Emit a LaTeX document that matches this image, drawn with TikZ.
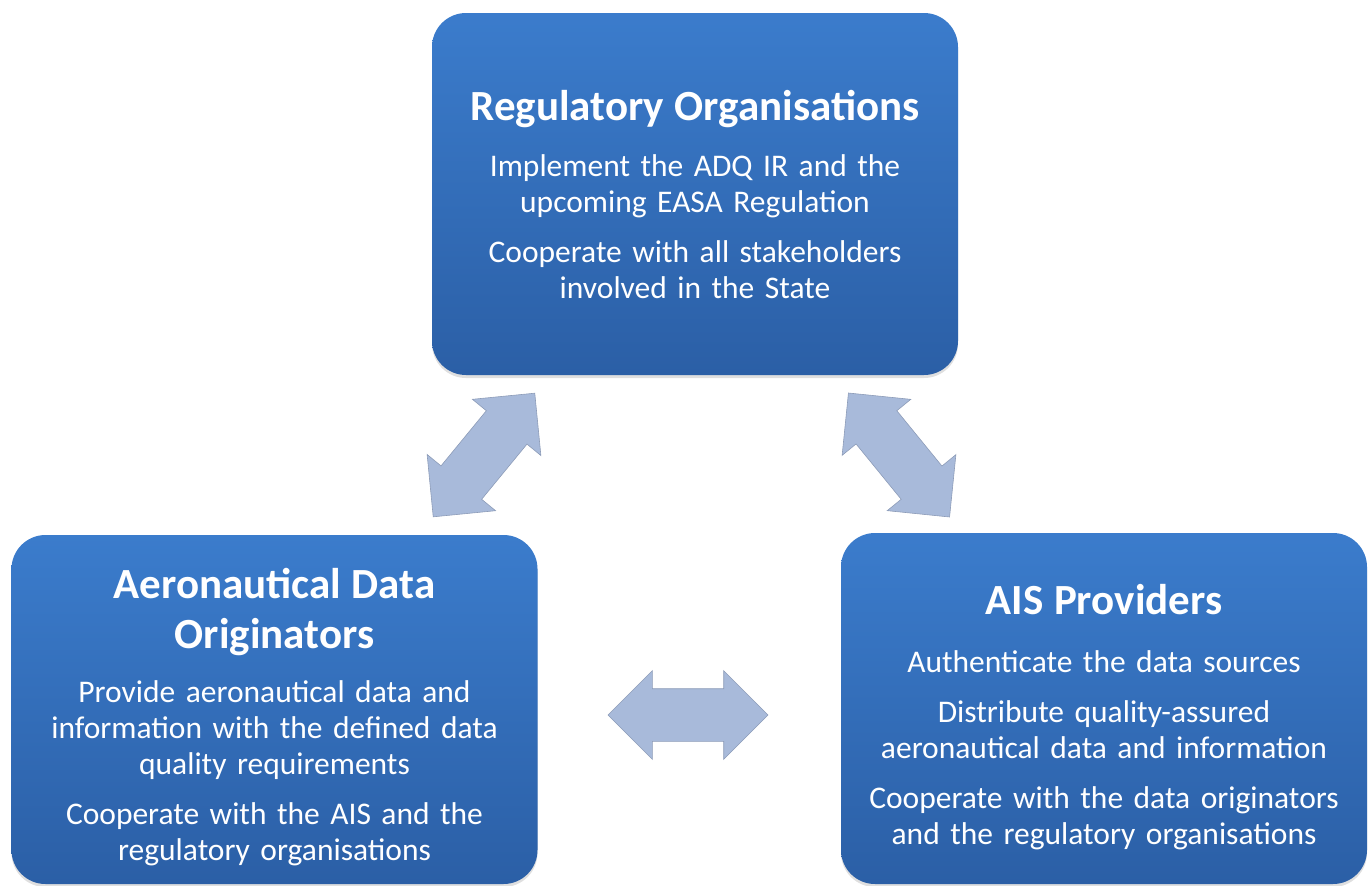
\documentclass[tikz,border=0pt]{standalone}
\usepackage{fontspec}
\setmainfont{Carlito}
\usetikzlibrary{positioning,shapes.arrows,shadows}
\definecolor{boxtop}{HTML}{3B7CCC}
\definecolor{boxbot}{HTML}{2B5FA6}
\definecolor{arrowfill}{HTML}{A8BADA}
\definecolor{arrowline}{HTML}{8D9CB8}
\newcommand{\orgtitle}{\fontsize{43}{50}\selectfont\bfseries}
\newcommand{\orgsep}{\par\vspace{14pt}}
\tikzset{
  orgbox/.style={rounded corners=34pt,top color=boxtop,bottom color=boxbot,
    drop shadow={shadow xshift=0pt,shadow yshift=-3pt,opacity=0.25},
    minimum width=526pt,inner sep=0pt},
  orgtext/.style={text=white,align=center,text width=504pt,inner sep=0pt,
    font=\fontsize{31.5}{36}\selectfont},
  linkarrow/.style={double arrow,double arrow head extend=18pt,
    double arrow tip angle=90,minimum width=88pt,minimum height=160pt,
    inner xsep=0pt,inner ysep=26pt,fill=arrowfill,draw=arrowline,line width=0.6pt},
}
\begin{document}
\begin{tikzpicture}[x=1pt,y=-1pt]
\useasboundingbox (0,0) rectangle (1371,886);
% the three organisations
\node[orgbox,minimum height=362pt] (reg) at (695,194) {};
\node[orgtext] (regtext) at (reg.center) {{\orgtitle Regulatory Organisations\par}\vspace{20pt}
Implement the ADQ IR and the\\upcoming EASA Regulation\orgsep
Cooperate with all stakeholders\\involved in the State};
\node[orgbox,minimum height=349pt] (ado) at (274.5,709.5) {};
\node[orgtext] (adotext) at ([yshift=-8pt]ado.center) {{\orgtitle Aeronautical Data\\Originators\par}\vspace{18pt}
Provide aeronautical data and\\information with the defined data\\quality requirements\orgsep
Cooperate with the AIS and the\\regulatory organisations};
\node[orgbox,minimum height=351pt] (ais) at (1104,708.5) {};
\node[orgtext] (aistext) at ([yshift=-8.5pt]ais.center) {{\orgtitle AIS Providers\par}\vspace{22pt}
Authenticate the data sources\orgsep
Distribute quality-assured\\aeronautical data and information\orgsep
Cooperate with the data originators\\and the regulatory organisations};
% two-way links
\node[linkarrow,rotate=50.6] (regado) at (484,455) {};
\node[linkarrow,rotate=-50.8] (regais) at (899,455) {};
\node[linkarrow] (adoais) at (688,715) {};
\end{tikzpicture}
\end{document}
